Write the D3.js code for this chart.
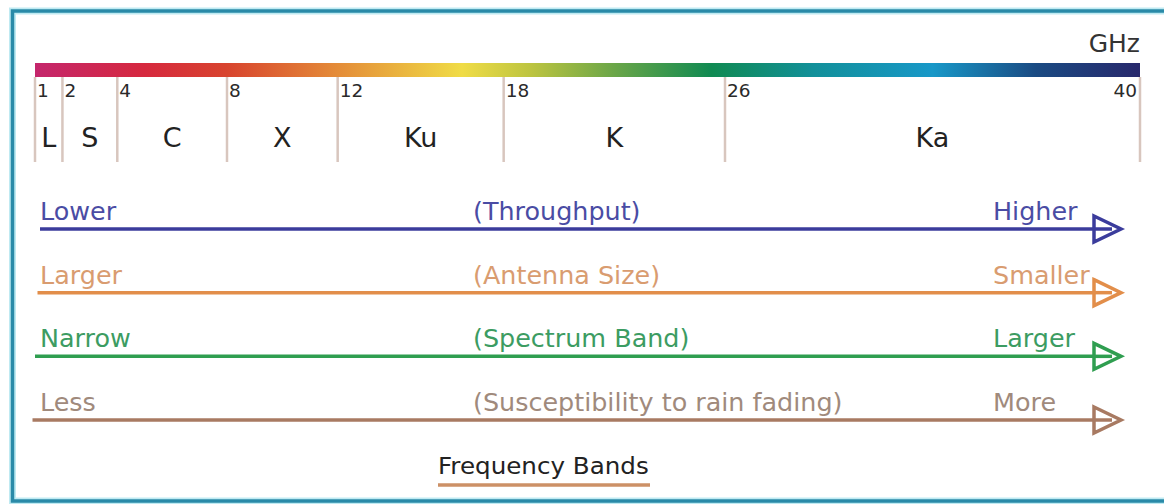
<!DOCTYPE html>
<meta charset="utf-8">
<head>
<style>
body { margin: 0; background: #fff; }
#plot { display: block; }
text { font-family: "DejaVu Sans", Verdana, sans-serif; }
</style>
<script src="https://d3js.org/d3.v7.min.js"></script>
</head>
<body>
<svg id="plot" width="1164" height="504"></svg>
<script>

// band edges in GHz and band names
var edges = [1, 2, 4, 8, 12, 18, 26, 40];
var bands = ["L", "S", "C", "X", "Ku", "K", "Ka"];

// colour ramp along the frequency bar (GHz, colour)
var rampGhz = [1, 5, 8, 12, 16.5, 19, 22, 25.5, 29, 33, 36.5, 40];
var rampCol = ["#c4266c", "#d6283e", "#d8442e", "#e48c38", "#f0dc46", "#bcc440",
               "#6aa648", "#108a52", "#12909a", "#1898c8", "#1a4a82", "#28286c"];

// trade-off rows
var rowKey   = ["tp", "ant", "spec", "rain"];
var leftTxt  = ["Lower", "Larger", "Narrow", "Less"];
var midTxt   = ["(Throughput)", "(Antenna Size)", "(Spectrum Band)", "(Susceptibility to rain fading)"];
var rightTxt = ["Higher", "Smaller", "Larger", "More"];
var lineCol  = ["#3b3c9c", "#e28e4a", "#2f9e50", "#a87a62"];
var textCol  = ["#4a4ca4", "#d99c70", "#3c9c62", "#a08a7c"];

var svg = d3.select("#plot");

// frequency scale (not strictly linear in the original drawing)
var x = d3.scaleLinear()
    .domain([1, 8, 26, 40])
    .range([35, 227, 725, 1140]);

var y = d3.scalePoint()
    .domain(rowKey)
    .range([229, 420]);

// frame
svg.append("rect")
    .attr("x", 12.5).attr("y", 11)
    .attr("width", 1180).attr("height", 490)
    .attr("fill", "none")
    .attr("stroke", "#bfeaf2")
    .attr("stroke-width", 7);
svg.append("rect")
    .attr("x", 12.5).attr("y", 11)
    .attr("width", 1180).attr("height", 490)
    .attr("fill", "none")
    .attr("stroke", "#2a8aa8")
    .attr("stroke-width", 3.5);

// gradient bar
var grad = svg.append("defs").append("linearGradient")
    .attr("id", "freqgrad")
    .attr("x1", "0%").attr("x2", "100%");

var x0 = x(1), x1 = x(40);
grad.selectAll("stop")
    .data(rampGhz)
    .enter().append("stop")
    .attr("offset", function(d) { return (x(d) - x0) / (x1 - x0); })
    .attr("stop-color", function(d, i) { return rampCol[i]; });

svg.append("rect")
    .attr("x", x0).attr("y", 63)
    .attr("width", x1 - x0).attr("height", 14)
    .attr("fill", "url(#freqgrad)");

svg.append("text")
    .attr("x", x1).attr("y", 52)
    .attr("text-anchor", "end")
    .attr("font-size", 25)
    .attr("fill", "#333")
    .text("GHz");

// band separators
svg.selectAll(".sep")
    .data(edges)
    .enter().append("line")
    .attr("class", "sep")
    .attr("x1", function(d) { return x(d); })
    .attr("x2", function(d) { return x(d); })
    .attr("y1", 77).attr("y2", 162)
    .attr("stroke", "#d8c6be")
    .attr("stroke-width", 2.5);

svg.selectAll(".ghz")
    .data(edges)
    .enter().append("text")
    .attr("class", "ghz")
    .attr("x", function(d, i) { return i == edges.length - 1 ? x(d) - 3 : x(d) + 2; })
    .attr("y", 97)
    .attr("text-anchor", function(d, i) { return i == edges.length - 1 ? "end" : "start"; })
    .attr("font-size", 18.5)
    .attr("fill", "#2a2a2a")
    .text(function(d) { return d; });

svg.selectAll(".band")
    .data(bands)
    .enter().append("text")
    .attr("class", "band")
    .attr("x", function(d, i) { return (x(edges[i]) + x(edges[i + 1])) / 2; })
    .attr("y", 147)
    .attr("text-anchor", "middle")
    .attr("font-size", 27)
    .attr("fill", "#222")
    .text(function(d) { return d; });

// arrows
var rows = svg.selectAll(".row")
    .data(rowKey)
    .enter().append("g")
    .attr("class", "row")
    .attr("transform", function(d) { return "translate(0," + y(d) + ")"; });

rows.append("line")
    .attr("x1", function(d, i) { return 40 - i * 2.5; })
    .attr("x2", 1118)
    .attr("stroke", function(d, i) { return lineCol[i]; })
    .attr("stroke-width", 3.5);

rows.append("path")
    .attr("d", "M1094,-13L1121,0L1094,13Z")
    .attr("fill", "#fff")
    .attr("stroke", function(d, i) { return lineCol[i]; })
    .attr("stroke-width", 3.5)
    .attr("stroke-linejoin", "miter");

rows.append("line")
    .attr("x1", 1094).attr("x2", 1112)
    .attr("stroke", function(d, i) { return lineCol[i]; })
    .attr("stroke-width", 3.5);

function label(sel, xpos, arr) {
  sel.append("text")
      .attr("transform", "translate(" + xpos + ",-9) scale(1.06,1)")
      .attr("font-size", 24)
      .attr("fill", function(d, i) { return textCol[i]; })
      .text(function(d, i) { return arr[i]; });
}
label(rows, 40, leftTxt);
label(rows, 473, midTxt);
label(rows, 993, rightTxt);

// caption
svg.append("text")
    .attr("transform", "translate(438,474) scale(1.07,1)")
    .attr("font-size", 23)
    .attr("fill", "#222")
    .text("Frequency Bands");

svg.append("line")
    .attr("x1", 438).attr("x2", 650)
    .attr("y1", 485).attr("y2", 485)
    .attr("stroke", "#cc9066")
    .attr("stroke-width", 3.5);

</script>
</body>
